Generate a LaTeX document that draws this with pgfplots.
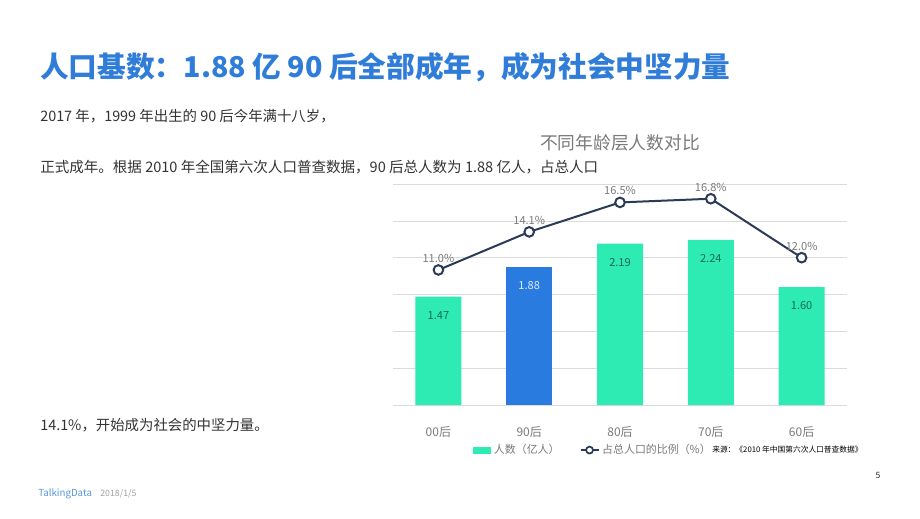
\documentclass[border=0pt]{standalone}
\usepackage{pgfplots}
\pgfplotsset{compat=1.18}
\usepackage{fontspec}
\setmainfont{Noto Sans CJK SC}

\definecolor{titleblue}{HTML}{2F7DD8}
\definecolor{barteal}{HTML}{2EEBB4}
\definecolor{barblue}{HTML}{2A7BE0}
\definecolor{linenavy}{HTML}{2B3A57}
\definecolor{txtgray}{HTML}{7A7A7A}
\definecolor{bodytxt}{HTML}{333333}

\begin{document}
\begin{tikzpicture}[x=0.75pt,y=-0.75pt]
\path[use as bounding box, fill=white] (0,0) rectangle (920,518);

% slide text
\node[anchor=west, inner sep=0, text=titleblue, font=\fontsize{21.5}{24}\selectfont\bfseries]
  at (40,67) {人口基数：1.88 亿 90 后全部成年，成为社会中坚力量};
\node[anchor=west, inner sep=0, text=bodytxt, font=\fontsize{10.8}{13}\selectfont]
  at (40,116) {2017 年，1999 年出生的 90 后今年满十八岁，};
\node[anchor=west, inner sep=0, text=bodytxt, font=\fontsize{10.9}{13}\selectfont]
  at (40,167) {正式成年。根据 2010 年全国第六次人口普查数据，90 后总人数为 1.88 亿人，占总人口};
\node[anchor=west, inner sep=0, text=bodytxt, font=\fontsize{10.8}{13}\selectfont]
  at (40,425) {14.1\%，开始成为社会的中坚力量。};
\node[anchor=center, inner sep=0, text=txtgray, font=\fontsize{13.3}{15}\selectfont]
  at (620,143) {不同年龄层人数对比};
\node[anchor=west, inner sep=0, font=\fontsize{5.8}{7}\selectfont]
  at (712,450) {来源：《2010 年中国第六次人口普查数据》};
\node[anchor=west, inner sep=0, text=titleblue!80, font=\fontsize{7.3}{9}\selectfont]
  at (38,494) {TalkingData};
\node[anchor=west, inner sep=0, text=txtgray!70, font=\fontsize{6.6}{8}\selectfont]
  at (100,494) {2018/1/5};
\node[anchor=center, inner sep=0, text=bodytxt, font=\fontsize{6.5}{8}\selectfont]
  at (878,475) {5};

% bars: population (100 million)
\begin{axis}[
    at={(294.75pt,-303.75pt)}, anchor=south west,
    scale only axis, width=340.5pt, height=165.75pt,
    xmin=-0.5, xmax=4.5, ymin=0, ymax=3,
    ybar, bar width=34.5pt,
    xtick={0,1,2,3,4},
    xticklabels={00后,90后,80后,70后,60后},
    xticklabel style={text=txtgray, font=\fontsize{9}{11}\selectfont, yshift=-8pt},
    ytick={0,0.5,...,3}, yticklabels={},
    ymajorgrids, major grid style={black!14},
    axis line style={draw=none}, tick style={draw=none},
    /pgf/number format/assume math mode=true,
    legend style={at={(0.166,-0.204)}, anchor=west, draw=none, fill=none,
        font=\fontsize{8.2}{10}\selectfont, text=txtgray,
        /tikz/every even column/.append style={column sep=13pt}},
    legend columns=-1,
]
\addplot[fill=barteal, draw=none, bar shift=0pt,
    nodes near coords={\pgfmathprintnumber[fixed,fixed zerofill,precision=2]{\pgfplotspointmeta}},
    every node near coord/.append style={anchor=center, yshift=-14pt,
        text=black!55!barteal, font=\fontsize{8.3}{10}\selectfont},
    legend image code/.code={\fill[barteal] (0pt,-2.6pt) rectangle (14pt,2.6pt);}]
  coordinates {(0,1.47) (2,2.19) (3,2.24) (4,1.60)};
\addlegendentry{人数（亿人）}
\addlegendimage{linenavy, line width=1.5pt,
    legend image code/.code={
        \draw[linenavy, line width=1.5pt] (0pt,0pt) -- (13.5pt,0pt);
        \draw[linenavy, line width=1.3pt, fill=white] (6.75pt,0pt) circle (2.6pt);}}
\addlegendentry{占总人口的比例（\%）}
\addplot[fill=barblue, draw=none, bar shift=0pt, forget plot,
    nodes near coords={\pgfmathprintnumber[fixed,fixed zerofill,precision=2]{\pgfplotspointmeta}},
    every node near coord/.append style={anchor=center, yshift=-14pt,
        text=white!85!barblue, font=\fontsize{8.3}{10}\selectfont}]
  coordinates {(1,1.88)};
\end{axis}

% line: share of total population (%)
\begin{axis}[
    at={(294.75pt,-303.75pt)}, anchor=south west,
    scale only axis, width=340.5pt, height=165.75pt,
    xmin=-0.5, xmax=4.5, ymin=0, ymax=18,
    hide axis,
    /pgf/number format/assume math mode=true,
]
\addplot[linenavy, line width=1.5pt, mark=*, mark size=3.6pt,
    mark options={fill=white, draw=linenavy, line width=1.5pt},
    nodes near coords={\pgfmathprintnumber[fixed,fixed zerofill,precision=1]{\pgfplotspointmeta}\%},
    every node near coord/.append style={anchor=south, yshift=1.5pt,
        text=txtgray, font=\fontsize{8.3}{10}\selectfont}]
  coordinates {(0,11.0) (1,14.1) (2,16.5) (3,16.8) (4,12.0)};
\end{axis}
\end{tikzpicture}
\end{document}
